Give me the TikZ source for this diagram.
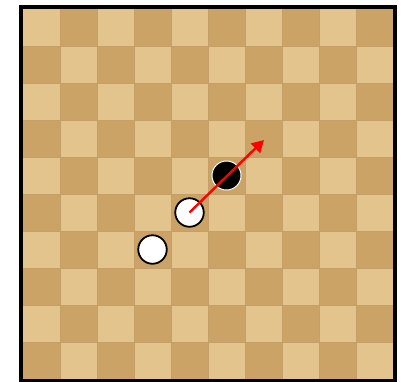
\documentclass[tikz,border=0pt]{standalone}
\usetikzlibrary{arrows.meta}
\definecolor{woodlight}{RGB}{226,196,140}
\definecolor{wooddark}{RGB}{204,163,102}
\definecolor{woodline}{RGB}{196,160,104}
\tikzset{
  stonew/.style={circle,draw=black,line width=1.8pt,fill=white,minimum size=28.5pt,inner sep=0pt},
  stoneb/.style={circle,draw=white,line width=1pt,fill=black,minimum size=29pt,inner sep=0pt},
  movearrow/.style={draw=red,line width=2.4pt,-{Triangle[length=12pt,width=13pt]}}
}
\begin{document}
\begin{tikzpicture}[x=1pt,y=-1pt]
\useasboundingbox (0,0) rectangle (403,381);
\fill[white] (0,0) rectangle (403,381);
\fill[black] (19,5) rectangle (397,383);
\foreach \i in {0,...,9}{
  \foreach \j in {0,...,9}{
    \pgfmathtruncatemacro{\myparity}{mod(\i+\j,2)}
    \ifnum\myparity=0
      \fill[woodlight] (23+37*\i,9+37*\j) rectangle ++(37,37);
    \else
      \fill[wooddark] (23+37*\i,9+37*\j) rectangle ++(37,37);
    \fi
  }
}
\foreach \i in {1,...,9}{
  \draw[woodline,line width=0.5pt] (23+37*\i,9) -- (23+37*\i,379);
  \draw[woodline,line width=0.5pt] (23,9+37*\i) -- (393,9+37*\i);
}
\node[stoneb] (b1) at (226.5,175.5) {};
\node[stonew] (w1) at (189.5,212.5) {};
\node[stonew] (w2) at (152.5,249.5) {};
\coordinate (tip) at (264,140);
\draw[movearrow] (w1.center) -- (tip);
\end{tikzpicture}
\end{document}
